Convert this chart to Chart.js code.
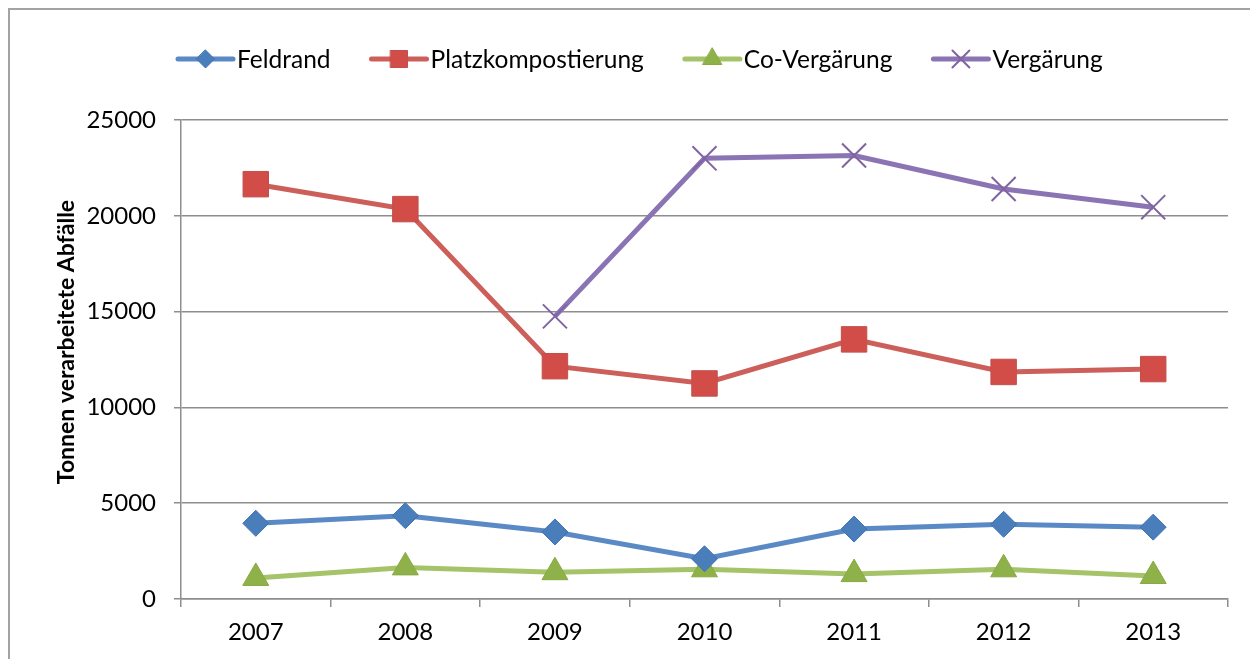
<!DOCTYPE html>
<html>
<head>
<meta charset="utf-8">
<script src="https://cdn.jsdelivr.net/npm/chart.js@4/dist/chart.umd.min.js"></script>
<style>
html,body{margin:0;padding:0;background:#fff;}
#wrap{width:1250px;height:659px;position:relative;}
</style>
</head>
<body>
<div id="wrap"><canvas id="c" width="1250" height="659"></canvas></div>
<script>
const years = ['2007','2008','2009','2010','2011','2012','2013'];
const feldrand = [3950, 4350, 3500, 2100, 3650, 3900, 3750];
const platzkompostierung = [21650, 20350, 12150, 11250, 13550, 11850, 12000];
const coVergaerung = [1100, 1650, 1400, 1550, 1300, 1550, 1200];
const vergaerung = [null, null, 14750, 23000, 23150, 21400, 20450];
const seriesNames = ['Feldrand', 'Platzkompostierung', 'Co-Vergärung', 'Vergärung'];
const yTitle = 'Tonnen verarbeitete Abfälle';

const FONT = 'Lato, "Open Sans", sans-serif';
const GRID = '#8e8e8e';

function drawMarker(ctx, style, x, y, r, fill, stroke, lw) {
  ctx.save();
  ctx.beginPath();
  if (style === 'rectRot') {
    ctx.moveTo(x, y - r); ctx.lineTo(x + r, y); ctx.lineTo(x, y + r); ctx.lineTo(x - r, y); ctx.closePath();
  } else if (style === 'rect') {
    const s = r * Math.SQRT1_2; ctx.rect(x - s, y - s, 2 * s, 2 * s);
  } else if (style === 'triangle') {
    ctx.moveTo(x, y - r);
    ctx.lineTo(x + r * Math.sin(2 * Math.PI / 3), y - r * Math.cos(2 * Math.PI / 3));
    ctx.lineTo(x + r * Math.sin(4 * Math.PI / 3), y - r * Math.cos(4 * Math.PI / 3));
    ctx.closePath();
  } else if (style === 'crossRot') {
    const d = r * Math.SQRT1_2;
    ctx.moveTo(x - d, y - d); ctx.lineTo(x + d, y + d);
    ctx.moveTo(x + d, y - d); ctx.lineTo(x - d, y + d);
  }
  if (style !== 'crossRot') { ctx.fillStyle = fill; ctx.fill(); }
  ctx.strokeStyle = stroke; ctx.lineWidth = lw; ctx.stroke();
  ctx.restore();
}

const decor = {
  id: 'decor',
  afterDraw(chart) {
    const ctx = chart.ctx;
    ctx.save();
    ctx.strokeStyle = '#a3a3a3';
    ctx.lineWidth = 2;
    ctx.beginPath();
    ctx.moveTo(9, 659); ctx.lineTo(9, 9); ctx.lineTo(1250, 9);
    ctx.stroke();
    ctx.save();
    ctx.translate(67, 342);
    ctx.rotate(-Math.PI / 2);
    ctx.font = 'bold 23px ' + FONT;
    ctx.fillStyle = '#000';
    ctx.textAlign = 'center';
    ctx.textBaseline = 'middle';
    ctx.fillText(yTitle, 0, 0);
    ctx.restore();
    ctx.font = '24.5px ' + FONT;
    ctx.textBaseline = 'middle';
    ctx.textAlign = 'left';
    let x = 176;
    const y = 59;
    chart.data.datasets.forEach(ds => {
      ctx.strokeStyle = ds.borderColor;
      ctx.lineWidth = 5;
      ctx.lineCap = 'round';
      ctx.beginPath(); ctx.moveTo(x + 2, y); ctx.lineTo(x + 57, y); ctx.stroke();
      drawMarker(ctx, ds.pointStyle, x + 29.5, y, ds.legendRadius, ds.pointBackgroundColor, ds.pointBorderColor, ds.pointBorderWidth);
      ctx.fillStyle = '#000';
      ctx.fillText(ds.label, x + 61, y + 1);
      x += 61 + ctx.measureText(ds.label).width + 39;
    });
    ctx.restore();
  }
};

new Chart(document.getElementById('c'), {
  type: 'line',
  data: {
    labels: years,
    datasets: [
      { label: seriesNames[0], data: feldrand, borderColor: '#5a8ac6', borderWidth: 5,
        pointStyle: 'rectRot', pointRadius: 13, pointBackgroundColor: '#4a7ebb', pointBorderColor: '#3f72b0', pointBorderWidth: 1, legendRadius: 9 },
      { label: seriesNames[1], data: platzkompostierung, borderColor: '#cd5f5a', borderWidth: 5,
        pointStyle: 'rect', pointRadius: 18, pointBackgroundColor: '#d24d47', pointBorderColor: '#c0504d', pointBorderWidth: 1, legendRadius: 12 },
      { label: seriesNames[2], data: coVergaerung, borderColor: '#a5c46a', borderWidth: 5,
        pointStyle: 'triangle', pointRadius: 15, pointBackgroundColor: '#8fb149', pointBorderColor: '#88a943', pointBorderWidth: 1, legendRadius: 11 },
      { label: seriesNames[3], data: vergaerung, borderColor: '#8b74b4', borderWidth: 5,
        pointStyle: 'crossRot', pointRadius: 17, pointBackgroundColor: '#8064a2', pointBorderColor: '#8064a2', pointBorderWidth: 2, legendRadius: 12 }
    ]
  },
  options: {
    responsive: false,
    animation: false,
    events: [],
    layout: { padding: { left: 0, right: 22, top: 120, bottom: 0 } },
    plugins: { legend: { display: false }, tooltip: { enabled: false } },
    elements: { line: { tension: 0 } },
    scales: {
      x: {
        offset: true,
        grid: { offset: true, drawOnChartArea: false, drawTicks: true, tickLength: 8, color: GRID, lineWidth: 1.5 },
        border: { display: true, color: GRID, width: 1.5 },
        ticks: { color: '#000', font: { family: FONT, size: 24 }, padding: 11, maxRotation: 0 },
        afterFit(s) { s.height = 60; }
      },
      y: {
        min: 0, max: 25000,
        grid: { color: GRID, lineWidth: 1.5, tickLength: 7 },
        border: { display: true, color: GRID, width: 1.5 },
        ticks: { stepSize: 5000, color: '#000', font: { family: FONT, size: 24 }, padding: 18,
                 callback: v => String(v) },
        afterFit(s) { s.width = 181; }
      }
    }
  },
  plugins: [decor]
});
</script>
</body>
</html>
